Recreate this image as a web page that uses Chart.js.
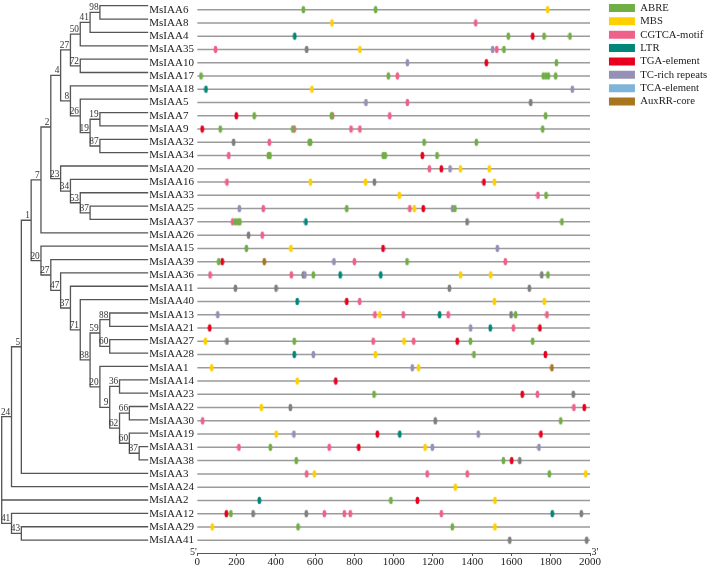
<!DOCTYPE html>
<html><head><meta charset="utf-8">
<script src="https://cdn.jsdelivr.net/npm/chart.js@4.4.0/dist/chart.umd.min.js"></script>
<style>
html,body{margin:0;padding:0;background:#fff;}
#wrap{position:relative;width:708px;height:568px;background:#fff;}
#wrap canvas{position:absolute;left:0;top:0;}
</style></head><body>
<div id="wrap">
<canvas id="tree" width="708" height="568"></canvas>
<canvas id="main" width="708" height="568"></canvas>
</div>
<script>
// ---------------- DATA ----------------
const genes = ['MsIAA6','MsIAA8','MsIAA4','MsIAA35','MsIAA10','MsIAA17','MsIAA18','MsIAA5','MsIAA7','MsIAA9',
  'MsIAA32','MsIAA34','MsIAA20','MsIAA16','MsIAA33','MsIAA25','MsIAA37','MsIAA26','MsIAA15','MsIAA39',
  'MsIAA36','MsIAA11','MsIAA40','MsIAA13','MsIAA21','MsIAA27','MsIAA28','MsIAA1','MsIAA14','MsIAA23',
  'MsIAA22','MsIAA30','MsIAA19','MsIAA31','MsIAA38','MsIAA3','MsIAA24','MsIAA2','MsIAA12','MsIAA29','MsIAA41'];

// Neighbour-joining tree (cladogram) with bootstrap values
const treeNewick = "(((((((((((MsIAA6,MsIAA8)98,MsIAA4)41,MsIAA35)50,(MsIAA10,MsIAA17)72)27,(MsIAA18,(MsIAA5,((MsIAA7,MsIAA9)19,(MsIAA32,MsIAA34)87)19)26)8)4,(MsIAA20,(MsIAA16,(MsIAA33,(MsIAA25,MsIAA37)87)53)34)23)2,MsIAA26)7,(MsIAA15,(MsIAA39,(MsIAA36,(MsIAA11,(MsIAA40,(((MsIAA13,MsIAA21)88,(MsIAA27,MsIAA28)60)59,(MsIAA1,((MsIAA14,MsIAA23)36,((MsIAA22,MsIAA30)66,(MsIAA19,(MsIAA31,MsIAA38)87)60)62)9)20)88)71)37)47)27)20)1,MsIAA3)5,MsIAA24)24,MsIAA2,(MsIAA12,(MsIAA29,MsIAA41)43)41);";

const promoterLength = 2000;          // bp upstream region analysed
const xTicks = [0,200,400,600,800,1000,1200,1400,1600,1800,2000];

const elementNames = ['ABRE','MBS','CGTCA-motif','LTR','TGA-element','TC-rich repeats','TCA-element','AuxRR-core'];

const ABRE = {
  MsIAA6:[540,908], MsIAA4:[1584,1766,1898], MsIAA35:[1562], MsIAA10:[1829],
  MsIAA17:[19,973,1762,1775,1788,1825], MsIAA7:[290,683,1774], MsIAA9:[117,486,1759],
  MsIAA32:[570,577,1155,1421], MsIAA34:[362,370,947,957,1221], MsIAA33:[1776],
  MsIAA25:[761,1312], MsIAA37:[194,207,217,1857], MsIAA15:[250], MsIAA39:[109,1068],
  MsIAA36:[591,1786], MsIAA13:[1621], MsIAA27:[494,1391,1708], MsIAA28:[1409],
  MsIAA23:[900], MsIAA30:[1851], MsIAA31:[372], MsIAA38:[504,1559], MsIAA3:[1793],
  MsIAA2:[986], MsIAA12:[171], MsIAA29:[513,1299]
};
const MBS = {
  MsIAA6:[1784], MsIAA8:[686], MsIAA35:[828], MsIAA18:[584], MsIAA20:[1340,1487],
  MsIAA16:[576,857,1513], MsIAA33:[1029], MsIAA25:[1105], MsIAA15:[477], MsIAA36:[1341,1494],
  MsIAA40:[1513,1767], MsIAA13:[929], MsIAA27:[41,1053], MsIAA28:[907], MsIAA1:[73,1127],
  MsIAA14:[509], MsIAA22:[326], MsIAA19:[402], MsIAA31:[1160], MsIAA3:[596,1978],
  MsIAA24:[1314], MsIAA2:[1516], MsIAA29:[76,1516]
};
const CGTCA = {
  MsIAA8:[1418], MsIAA35:[93,1525], MsIAA17:[1019], MsIAA5:[1070], MsIAA7:[689,980],
  MsIAA9:[494,783,828], MsIAA32:[367], MsIAA34:[160], MsIAA20:[1182], MsIAA16:[151],
  MsIAA33:[1735], MsIAA25:[336,1082], MsIAA37:[180], MsIAA26:[331], MsIAA39:[800,1569],
  MsIAA36:[65,479], MsIAA40:[827], MsIAA13:[905,1049,1278,1781], MsIAA21:[1610],
  MsIAA27:[896,1102], MsIAA23:[1732], MsIAA22:[1918], MsIAA30:[27], MsIAA31:[212,672],
  MsIAA3:[557,1171,1375], MsIAA12:[647,749,779,1243]
};
const LTR = {
  MsIAA4:[496], MsIAA18:[44], MsIAA37:[553], MsIAA36:[728,934], MsIAA40:[509],
  MsIAA13:[1234], MsIAA21:[1492], MsIAA28:[494], MsIAA19:[1031], MsIAA2:[316], MsIAA12:[1808]
};
const TGA = {
  MsIAA4:[1708], MsIAA10:[1472], MsIAA7:[199], MsIAA9:[25], MsIAA34:[1146], MsIAA20:[1243],
  MsIAA16:[1460], MsIAA25:[1151], MsIAA15:[946], MsIAA39:[127], MsIAA40:[761],
  MsIAA21:[63,1745], MsIAA27:[1324], MsIAA28:[1773], MsIAA14:[705], MsIAA23:[1655],
  MsIAA22:[1971], MsIAA19:[917,1750], MsIAA31:[822], MsIAA38:[1601], MsIAA2:[1121], MsIAA12:[148]
};
const TCRICH = {
  MsIAA35:[1504], MsIAA10:[1070], MsIAA18:[1910], MsIAA5:[859], MsIAA20:[1287],
  MsIAA25:[214,1300], MsIAA15:[1528], MsIAA39:[696], MsIAA36:[548], MsIAA13:[104],
  MsIAA21:[1392], MsIAA28:[591], MsIAA1:[1095], MsIAA19:[492,1431], MsIAA31:[1197,1740]
};
const TCA = {};
const AUXRR = { MsIAA39:[341], MsIAA1:[1806] };
// grey marks drawn in the figure without a legend entry
const GREY = {
  MsIAA35:[557], MsIAA5:[1698], MsIAA32:[185], MsIAA16:[902], MsIAA37:[1374], MsIAA26:[261],
  MsIAA36:[540,1754], MsIAA11:[194,401,1284,1691], MsIAA13:[1598], MsIAA27:[151],
  MsIAA23:[1915], MsIAA22:[474], MsIAA30:[1212], MsIAA38:[1642], MsIAA12:[284,555,1956],
  MsIAA41:[1591,1983]
};

// ---------------- STYLE / LAYOUT ----------------
const COLORS = ['#72AE46','#FFD000','#EF6189','#00877A','#E8001E','#9590B6','#7FB4DA','#A8761F'];
const GREY_COLOR = '#7f7f7f';
const FONT = 'Liberation Serif';
const ROW0 = 5.7, ROWSTEP = 13.36, PLOT_BOTTOM = 553;
const Y_MIN = -ROW0 / ROWSTEP;
const Y_MAX = (PLOT_BOTTOM - ROW0) / ROWSTEP;
const LEAF_DEPTH = 14.85, MAX_DEPTH = 15;

Chart.defaults.font.family = FONT;

function markerImage(color){
  const c = document.createElement('canvas');
  c.width = 5; c.height = 9;
  const g = c.getContext('2d');
  g.fillStyle = color;
  g.beginPath(); g.ellipse(2.5, 4.5, 1.9, 3.8, 0, 0, Math.PI*2); g.fill();
  return c;
}
function toPoints(map){
  const pts = [];
  Object.keys(map).forEach(g => {
    const row = genes.indexOf(g);
    map[g].forEach(p => pts.push({x:p, y:row}));
  });
  return pts;
}

// ---------------- TREE ----------------
function parseNewick(s){
  let i = 0;
  function node(){
    const n = {children:[], name:'', label:''};
    if (s[i] === '('){
      i++;
      n.children.push(node());
      while (s[i] === ','){ i++; n.children.push(node()); }
      i++;
      let lab = '';
      while (i < s.length && /[0-9]/.test(s[i])) lab += s[i++];
      n.label = lab;
    } else {
      let nm = '';
      while (i < s.length && !/[,();]/.test(s[i])) nm += s[i++];
      n.name = nm;
    }
    return n;
  }
  return node();
}
const treeRoot = parseNewick(treeNewick);
const treeSegments = [];
const bootstrapNodes = [];
(function layout(n, depth){
  n.depth = depth;
  if (!n.children.length){ n.y = genes.indexOf(n.name); return; }
  n.children.forEach(c => layout(c, depth + 1));
  const first = n.children[0].y, last = n.children[n.children.length-1].y;
  n.y = (first + last) / 2;
  treeSegments.push({x:depth, y:first}, {x:depth, y:last}, {x:null, y:null});
  n.children.forEach(c => {
    const cd = c.children.length ? c.depth : LEAF_DEPTH;
    treeSegments.push({x:depth, y:c.y}, {x:cd, y:c.y}, {x:null, y:null});
  });
  if (depth > 0 && n.label) bootstrapNodes.push({x:depth, y:n.y, label:n.label});
})(treeRoot, 0);

const bootstrapPlugin = {
  id: 'bootstrapLabels',
  afterDatasetsDraw(chart){
    const {ctx, scales:{x, y}} = chart;
    ctx.save();
    ctx.font = '9.3px "' + FONT + '"';
    ctx.fillStyle = '#333';
    ctx.textAlign = 'right';
    ctx.textBaseline = 'alphabetic';
    bootstrapNodes.forEach(n => {
      ctx.fillText(n.label, x.getPixelForValue(n.x) - 1.3, y.getPixelForValue(n.y) - 2);
    });
    ctx.restore();
  }
};

new Chart(document.getElementById('tree'), {
  type: 'scatter',
  data: { datasets: [{
    label: 'tree', data: treeSegments, showLine: true, spanGaps: false,
    borderColor: '#555', borderWidth: 1.3, borderCapStyle: 'square',
    pointRadius: 0, clip: false
  }]},
  options: {
    responsive: false, animation: false,
    layout: { padding: { left: 1.7, right: 708 - 149, top: 0, bottom: 568 - PLOT_BOTTOM } },
    scales: {
      x: { type:'linear', min:0, max:MAX_DEPTH, display:false },
      y: { type:'linear', min:Y_MIN, max:Y_MAX, reverse:true, display:false }
    },
    plugins: { legend:{display:false}, tooltip:{enabled:false} }
  },
  plugins: [bootstrapPlugin]
});

// ---------------- PROMOTER CHART ----------------
const promoterLines = [];
genes.forEach((g, i) => { promoterLines.push({x:0, y:i}, {x:promoterLength, y:i}, {x:null, y:null}); });

const elementData = [ABRE, MBS, CGTCA, LTR, TGA, TCRICH, TCA, AUXRR];
const datasets = elementData.map((m, k) => ({
  label: elementNames[k], data: toPoints(m),
  backgroundColor: COLORS[k], borderColor: COLORS[k], borderWidth: 0,
  pointStyle: markerImage(COLORS[k]), pointRadius: 3, clip: false
}));
datasets.push({
  label: 'Other (grey)', data: toPoints(GREY),
  backgroundColor: GREY_COLOR, borderColor: GREY_COLOR, borderWidth: 0,
  pointStyle: markerImage(GREY_COLOR), pointRadius: 3, clip: false
});
datasets.push({
  label: 'Promoter', data: promoterLines, showLine: true, spanGaps: false,
  borderColor: '#9b9b9b', borderWidth: 1.5, pointRadius: 0, clip: false
});

const endLabelsPlugin = {
  id: 'endLabels',
  afterDraw(chart){
    const {ctx} = chart; const x = chart.scales.x;
    ctx.save();
    ctx.font = '10px "' + FONT + '"';
    ctx.fillStyle = '#222';
    ctx.textBaseline = 'alphabetic';
    ctx.textAlign = 'right';
    ctx.fillText("5'", x.getPixelForValue(0) - 0.5, x.top + 1.5);
    ctx.textAlign = 'left';
    ctx.fillText("3'", x.getPixelForValue(promoterLength) + 1.5, x.top + 1.5);
    ctx.restore();
  }
};

new Chart(document.getElementById('main'), {
  type: 'scatter',
  data: { datasets },
  options: {
    responsive: false, animation: false,
    layout: { padding: { left: 149.3, right: 0, top: 0, bottom: 0 } },
    scales: {
      x: {
        type:'linear', min:0, max:promoterLength, position:'bottom',
        afterBuildTicks: s => { s.ticks = xTicks.map(v => ({value:v})); },
        afterFit: s => { s.height = 568 - PLOT_BOTTOM; s.paddingLeft = 0; s.paddingRight = 0; },
        ticks: { callback: v => String(v), color:'#222', font:{family:FONT, size:11}, padding:0, maxRotation:0, autoSkip:false },
        grid: { drawOnChartArea:false, drawTicks:true, tickLength:3, color:'#555', lineWidth:1 },
        border: { display:true, color:'#555', width:1 }
      },
      y: {
        type:'linear', min:Y_MIN, max:Y_MAX, reverse:true, position:'left',
        afterBuildTicks: s => { s.ticks = genes.map((g, i) => ({value:i})); },
        afterFit: s => { s.width = 197.3 - 149.3; s.paddingTop = 0; s.paddingBottom = 0; },
        ticks: { callback: v => genes[v], crossAlign:'far', padding:0, autoSkip:false,
                 color:'#222', font:{family:FONT, size:11} },
        grid: { display:false }, border: { display:false }
      },
      legendGap: {
        type:'linear', position:'right', display:true,
        afterFit: s => { s.width = 16.3; s.paddingTop = 0; s.paddingBottom = 0; },
        ticks: { display:false }, grid: { display:false }, border: { display:false }
      }
    },
    plugins: {
      legend: {
        position:'right', align:'start', maxWidth: 101.7,
        labels: {
          boxWidth:26, boxHeight:8, padding:2.66, color:'#222',
          font:{family:FONT, size:10.7},
          filter: item => item.datasetIndex < elementNames.length
        }
      },
      tooltip: { enabled:false }
    }
  },
  plugins: [endLabelsPlugin]
});
</script>
</body></html>
